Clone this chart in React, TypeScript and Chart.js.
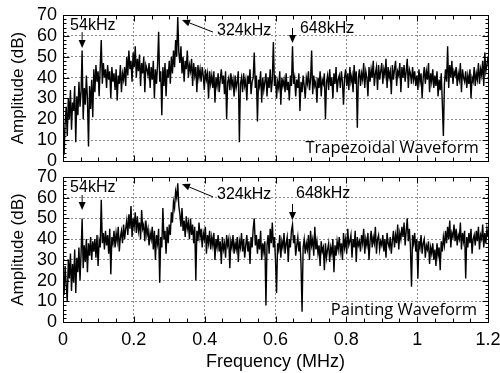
import React, { useEffect, useRef } from "react";
import { Chart, registerables } from "chart.js";

Chart.register(...registerables);

// ---- axis definitions ----
const FREQ_STEP_MHZ = 0.003; // spacing of the sampled spectrum
const FREQ_MIN = 0;
const FREQ_MAX = 1.2;
const FREQ_TICK_STEP = 0.2;
const DB_MIN = 0;
const DB_MAX = 70;
const DB_TICK_STEP = 10;

// ---- spectrum values (dB), one every 3 kHz from 0 to 1.2 MHz ----
const trapezoidalDb = [
  22, 3, 18, 26, 12, 30, 20, 34, 15, 28,
  24, 36, 9, 31, 22, 38, 26, 33, 53, 20,
  35, 27, 41, 30, 7, 36, 25, 39, 21, 44,
  33, 46, 38, 43, 31, 45, 58, 37, 47, 40,
  44, 35, 46, 39, 43, 30, 45, 38, 42, 34,
  44, 29, 41, 37, 46, 33, 42, 39, 45, 36,
  50, 41, 53, 44, 48, 38, 52, 45, 55, 40,
  49, 43, 51, 36, 47, 42, 50, 33, 46, 44,
  41, 47, 35, 45, 39, 48, 30, 44, 37, 46,
  62, 38, 43, 22, 45, 36, 47, 31, 44, 40,
  48, 37, 50, 42, 53, 45, 58, 50, 69, 52,
  47, 55, 42, 50, 38, 48, 44, 53, 40, 46,
  43, 49, 36, 47, 41, 45, 33, 46, 40, 44,
  38, 45, 41, 34, 44, 39, 42, 30, 43, 37,
  41, 35, 43, 28, 40, 36, 42, 33, 39, 44,
  37, 41, 32, 43, 20, 38, 40, 34, 42, 36,
  39, 31, 41, 35, 38, 43, 9, 37, 40, 33,
  42, 36, 39, 29, 41, 37, 44, 32, 38, 40,
  52, 35, 41, 19, 39, 36, 43, 28, 40, 34,
  38, 42, 31, 40, 35, 44, 33, 39, 57, 36,
  41, 30, 38, 35, 43, 27, 40, 36, 39, 33,
  42, 34, 38, 29, 41, 36, 55, 37, 40, 31,
  39, 35, 42, 24, 38, 33, 41, 36, 30, 40,
  37, 43, 34, 39, 53, 32, 41, 36, 38, 28,
  40, 35, 43, 31, 39, 37, 42, 20, 38, 41,
  34, 44, 36, 40, 30, 42, 37, 45, 33, 39,
  41, 35, 43, 38, 27, 40, 44, 36, 42, 34,
  45, 38, 41, 33, 46, 37, 43, 16, 40, 44,
  36, 42, 39, 47, 35, 43, 40, 31, 45, 38,
  44, 40, 48, 36, 42, 45, 34, 46, 39, 43,
  47, 37, 44, 41, 49, 35, 45, 40, 43, 32,
  46, 39, 44, 48, 36, 43, 41, 47, 33, 45,
  40, 46, 38, 43, 49, 35, 44, 42, 37, 45,
  39, 43, 36, 41, 34, 44, 38, 42, 30, 40,
  45, 37, 43, 39, 47, 33, 42, 38, 44, 35,
  41, 36, 43, 31, 39, 34, 42, 28, 12, 37,
  44, 38, 55, 35, 46, 40, 48, 37, 43, 41,
  45, 36, 42, 39, 47, 33, 44, 40, 38, 43,
  35, 41, 37, 44, 30, 40, 38, 45, 36, 42,
  39, 47, 37, 44, 41, 48, 36, 52, 43, 46,
  50,
];

const paintingDb = [
  24, 13, 27, 18, 10, 30, 21, 33, 15, 28,
  19, 35, 14, 31, 24, 36, 20, 33, 50, 26,
  37, 29, 40, 24, 38, 32, 41, 30, 39, 34,
  40, 31, 42, 27, 39, 36, 59, 38, 43, 35,
  44, 37, 42, 33, 45, 23, 41, 38, 44, 36,
  43, 39, 46, 34, 41, 44, 38, 47, 40, 45,
  49, 42, 52, 45, 56, 41, 50, 46, 53, 43,
  51, 44, 48, 40, 54, 45, 47, 39, 49, 42,
  45, 37, 43, 40, 46, 35, 44, 30, 42, 38,
  45, 19, 41, 36, 55, 40, 44, 33, 46, 38,
  47, 42, 53, 48, 58, 55, 63, 60, 67, 56,
  52, 46, 55, 44, 49, 41, 51, 45, 48, 40,
  50, 42, 47, 38, 46, 20, 44, 39, 48, 41,
  45, 36, 43, 40, 46, 33, 42, 38, 44, 35,
  41, 37, 43, 30, 40, 36, 42, 34, 39, 28,
  41, 35, 38, 31, 42, 37, 40, 26, 39, 36,
  42, 33, 38, 35, 41, 29, 39, 36, 43, 34,
  40, 31, 37, 42, 34, 39, 28, 41, 36, 45,
  50, 37, 42, 33, 40, 35, 44, 30, 38, 34,
  39, 8, 37, 42, 33, 45, 38, 48, 36, 41,
  30, 14, 38, 35, 42, 31, 39, 36, 43, 33,
  38, 41, 29, 40, 36, 44, 47, 38, 42, 32,
  37, 41, 34, 39, 28, 5, 36, 40, 33, 38,
  35, 42, 30, 44, 37, 40, 32, 46, 35, 39,
  33, 37, 27, 39, 34, 36, 25, 38, 31, 35,
  38, 29, 36, 33, 40, 24, 37, 32, 39, 35,
  41, 34, 38, 30, 43, 36, 40, 33, 45, 37,
  39, 42, 31, 40, 36, 44, 29, 41, 37, 39,
  34, 42, 38, 45, 33, 40, 37, 43, 30, 39,
  44, 36, 41, 38, 46, 33, 40, 42, 35, 39,
  37, 42, 34, 40, 31, 43, 38, 36, 41, 33,
  39, 44, 36, 42, 38, 47, 35, 43, 40, 46,
  41, 48, 37, 44, 50, 39, 45, 36, 17, 42,
  38, 43, 34, 40, 21, 39, 36, 42, 33, 38,
  40, 31, 37, 35, 39, 28, 36, 33, 38, 30,
  35, 27, 38, 32, 36, 25, 39, 34, 41, 37,
  44, 38, 46, 40, 49, 36, 43, 41, 47, 39,
  45, 37, 42, 40, 48, 35, 43, 39, 44, 21,
  41, 36, 43, 38, 45, 33, 40, 42, 37, 44,
  39, 46, 35, 42, 40, 47, 36, 43, 38, 45,
  41,
];

// ---- annotation texts ----
const harmonicLabels = ["54kHz", "324kHz", "648kHz"];
const harmonicFreqs = [0.054, 0.324, 0.648];
const panelTitles = ["Trapezoidal Waveform", "Painting Waveform"];
const X_AXIS_TITLE = "Frequency (MHz)";
const Y_AXIS_TITLE = "Amplitude (dB)";

const FONT = '"Liberation Sans", Arial, sans-serif';
const NOTE_FONT = '"Open Sans", "Liberation Sans", sans-serif';
const GRID_COLOR = "#8a8a8a";

type Note = { text: string; f: number; v: number; align?: CanvasTextAlign; font?: string };
type Arrow = { f1: number; v1: number; f2: number; v2: number };

const topDecor = {
  notes: [
    { text: harmonicLabels[0], f: 0.02, v: 65 },
    { text: harmonicLabels[1], f: 0.435, v: 62.3 },
    { text: harmonicLabels[2], f: 0.669, v: 63.3 },
    { text: panelTitles[0], f: 1.174, v: 6.0, align: "right", font: `16.5px ${NOTE_FONT}` },
  ] as Note[],
  arrows: [
    { f1: harmonicFreqs[0], v1: 61.8, f2: harmonicFreqs[0], v2: 54.2 },
    { f1: 0.4235, v1: 61.8, f2: 0.336, v2: 67.6 },
    { f1: harmonicFreqs[2], v1: 63.8, f2: harmonicFreqs[2], v2: 56.6 },
  ] as Arrow[],
};

const bottomDecor = {
  notes: [
    { text: harmonicLabels[0], f: 0.02, v: 64.7 },
    { text: harmonicLabels[1], f: 0.435, v: 61.3 },
    { text: harmonicLabels[2], f: 0.658, v: 62 },
    { text: panelTitles[1], f: 1.169, v: 5.8, align: "right", font: `16.5px ${NOTE_FONT}` },
  ] as Note[],
  arrows: [
    { f1: harmonicFreqs[0], v1: 61.3, f2: harmonicFreqs[0], v2: 54.1 },
    { f1: 0.4235, v1: 60.4, f2: 0.336, v2: 66.6 },
    { f1: harmonicFreqs[2], v1: 57, f2: harmonicFreqs[2], v2: 49.3 },
  ] as Arrow[],
};

const decorPlugin = {
  id: "panelDecor",
  afterDraw(chart: any, _args: any, opts: any) {
    const { ctx, chartArea: a, scales } = chart;
    const xs = scales.x;
    const ys = scales.y;
    const L = Math.round(a.left) + 0.5;
    const R = Math.round(a.right) + 0.5;
    const T = Math.round(a.top) + 0.5;
    const B = Math.round(a.bottom) + 0.5;
    ctx.save();
    ctx.strokeStyle = "#000";
    ctx.lineWidth = 1;
    ctx.setLineDash([]);
    ctx.strokeRect(L, T, R - L, B - T);

    // inward ticks
    ctx.beginPath();
    for (let k = 0; k <= 24; k++) {
      const px = Math.round(xs.getPixelForValue(k * 0.05)) + 0.5;
      const len = k % 4 === 0 ? 6 : 4;
      ctx.moveTo(px, T);
      ctx.lineTo(px, T + len);
      ctx.moveTo(px, B);
      ctx.lineTo(px, B - len);
    }
    for (let v = DB_MIN; v <= DB_MAX; v += 2) {
      const py = Math.round(ys.getPixelForValue(v)) + 0.5;
      const len = v % 10 === 0 ? 6 : 3;
      ctx.moveTo(L, py);
      ctx.lineTo(L + len, py);
      ctx.moveTo(R, py);
      ctx.lineTo(R - len, py);
    }
    ctx.stroke();

    // arrows
    ctx.fillStyle = "#000";
    for (const ar of opts.arrows as Arrow[]) {
      const x1 = xs.getPixelForValue(ar.f1);
      const y1 = ys.getPixelForValue(ar.v1);
      const x2 = xs.getPixelForValue(ar.f2);
      const y2 = ys.getPixelForValue(ar.v2);
      const ang = Math.atan2(y2 - y1, x2 - x1);
      const hl = 8;
      const hw = 3.5;
      const bx = x2 - hl * Math.cos(ang);
      const by = y2 - hl * Math.sin(ang);
      ctx.beginPath();
      ctx.moveTo(x1, y1);
      ctx.lineTo(bx, by);
      ctx.stroke();
      ctx.beginPath();
      ctx.moveTo(x2, y2);
      ctx.lineTo(bx + hw * Math.sin(ang), by - hw * Math.cos(ang));
      ctx.lineTo(bx - hw * Math.sin(ang), by + hw * Math.cos(ang));
      ctx.closePath();
      ctx.fill();
    }

    // texts
    ctx.textBaseline = "middle";
    for (const n of opts.notes as Note[]) {
      ctx.font = n.font || `16px ${FONT}`;
      ctx.textAlign = n.align || "left";
      ctx.fillText(n.text, xs.getPixelForValue(n.f), ys.getPixelForValue(n.v));
    }
    ctx.restore();
  },
};

const toPoints = (vals: number[]) =>
  vals.map((v, i) => ({ x: Math.round(i * FREQ_STEP_MHZ * 1000) / 1000, y: v }));

type Panel = {
  values: number[];
  padTop: number;
  padBottom: number;
  xHeight: number;
  showX: boolean;
  decor: any;
};

function makeChart(canvas: HTMLCanvasElement, panel: Panel) {
  return new Chart(canvas, {
    type: "line",
    data: {
      datasets: [
        {
          data: toPoints(panel.values),
          borderColor: "#000",
          borderWidth: 1.4,
          pointRadius: 0,
          tension: 0,
          fill: false,
        },
      ],
    },
    options: {
      animation: false,
      responsive: false,
      devicePixelRatio: 1,
      events: [],
      layout: { padding: { top: panel.padTop, right: 12, bottom: panel.padBottom, left: 0 } },
      plugins: {
        legend: { display: false },
        tooltip: { enabled: false },
        panelDecor: panel.decor,
      } as any,
      scales: {
        x: {
          type: "linear",
          min: FREQ_MIN,
          max: FREQ_MAX,
          ticks: {
            stepSize: FREQ_TICK_STEP,
            display: panel.showX,
            color: "#000",
            font: { family: FONT, size: 18 },
            padding: 7,
            maxRotation: 0,
            autoSkip: false,
            callback: (v: any) => String(Math.round(Number(v) * 10) / 10),
          },
          grid: { color: GRID_COLOR, drawTicks: false, lineWidth: 1 },
          border: { display: false, dash: [2, 2] },
          title: {
            display: panel.showX,
            text: X_AXIS_TITLE,
            color: "#000",
            font: { family: FONT, size: 18 },
            padding: { top: 0, bottom: 0 },
          },
          afterFit: (s: any) => {
            s.height = panel.xHeight;
            s.paddingLeft = 0;
            s.paddingRight = 0;
          },
        },
        y: {
          min: DB_MIN,
          max: DB_MAX,
          ticks: {
            stepSize: DB_TICK_STEP,
            color: "#000",
            font: { family: FONT, size: 18 },
            padding: 6,
            autoSkip: false,
          },
          grid: { color: GRID_COLOR, drawTicks: false, lineWidth: 1 },
          border: { display: false, dash: [2, 2] },
          title: {
            display: true,
            text: Y_AXIS_TITLE,
            color: "#000",
            font: { family: FONT, size: 17 },
            padding: { top: 8, bottom: 0 },
          },
          afterFit: (s: any) => {
            s.width = 63;
            s.paddingTop = 0;
            s.paddingBottom = 0;
          },
        },
      },
    } as any,
    plugins: [decorPlugin as any],
  });
}

export default function App() {
  const topRef = useRef<HTMLCanvasElement>(null);
  const botRef = useRef<HTMLCanvasElement>(null);

  useEffect(() => {
    const top = makeChart(topRef.current!, {
      values: trapezoidalDb,
      padTop: 15,
      padBottom: 373 - 161,
      xHeight: 0,
      showX: false,
      decor: topDecor,
    });
    const bottom = makeChart(botRef.current!, {
      values: paintingDb,
      padTop: 177,
      padBottom: 0,
      xHeight: 51,
      showX: true,
      decor: bottomDecor,
    });
    return () => {
      top.destroy();
      bottom.destroy();
    };
  }, []);

  const cs: React.CSSProperties = { position: "absolute", left: 0, top: 0, width: 500, height: 373 };
  return (
    <div style={{ position: "fixed", left: 0, top: 0, width: 500, height: 373, background: "#fff" }}>
      <canvas ref={topRef} width={500} height={373} style={cs} />
      <canvas ref={botRef} width={500} height={373} style={cs} />
    </div>
  );
}
